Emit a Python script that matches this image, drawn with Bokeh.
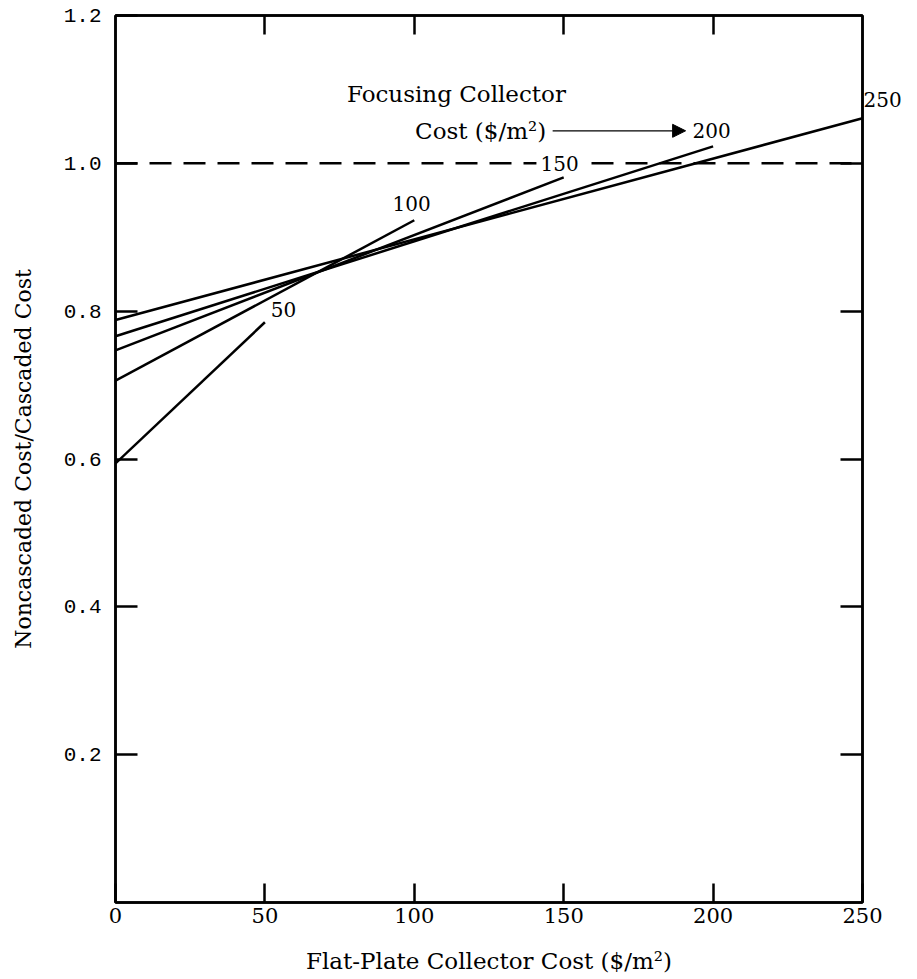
from bokeh.plotting import figure
from bokeh.models import (Range1d, LinearAxis, FixedTicker, Label, Arrow, NormalHead)
from bokeh.embed import file_html
from bokeh.resources import INLINE

# Data: Noncascaded/Cascaded cost ratio vs flat-plate collector cost,
# one line per focusing collector cost ($/m2)
focus_costs = [50, 100, 150, 200, 250]
flat_start = [0, 0, 0, 0, 0]
flat_end = [50, 100, 150, 200, 250]
ratio_start = [0.594, 0.706, 0.747, 0.766, 0.788]
ratio_end = [0.785, 0.923, 0.981, 1.023, 1.061]

label_x = [56.2, 99.1, 148.6, 199.5]
label_y = [0.802, 0.945, 1.0, 1.044]
label_250_y = 1.086

x_ticks = [0, 50, 100, 150, 200, 250]
y_ticks = [0.2, 0.4, 0.6, 0.8, 1.0, 1.2]
y_tick_labels = {0.2: "0.2", 0.4: "0.4", 0.6: "0.6", 0.8: "0.8", 1.0: "1.0", 1.2: "1.2"}

SERIF = "DejaVu Serif"
MONO = "Liberation Mono"

p = figure(width=917, height=979, output_backend="svg", toolbar_location=None,
           x_range=Range1d(0, 250), y_range=Range1d(0, 1.2),
           min_border_left=115, min_border_right=55, min_border_top=15, min_border_bottom=77,
           x_axis_label="Flat-Plate Collector Cost ($/m²)",
           y_axis_label="Noncascaded Cost/Cascaded Cost")
p.grid.visible = False
p.outline_line_color = "black"
p.outline_line_width = 2.5
p.background_fill_color = "white"

xa = p.xaxis[0]
xa.ticker = FixedTicker(ticks=x_ticks)
xa.major_tick_in = 19
xa.major_tick_out = 0
xa.minor_tick_line_color = None
xa.axis_line_width = 2.5
xa.major_tick_line_width = 2.5
xa.major_label_text_font = SERIF
xa.major_label_text_font_size = "21px"
xa.major_label_text_color = "black"
xa.major_label_standoff = 5
xa.axis_label_text_font = SERIF
xa.axis_label_text_font_size = "23px"
xa.axis_label_text_font_style = "normal"
xa.axis_label_text_color = "black"
xa.axis_label_standoff = 22

ya = p.yaxis[0]
ya.ticker = FixedTicker(ticks=y_ticks)
ya.major_label_overrides = y_tick_labels
ya.major_tick_in = 22
ya.major_tick_out = 0
ya.minor_tick_line_color = None
ya.axis_line_width = 2.5
ya.major_tick_line_width = 2.5
ya.major_label_text_font = MONO
ya.major_label_text_font_size = "21px"
ya.major_label_text_color = "black"
ya.major_label_standoff = 14
ya.axis_label_text_font = SERIF
ya.axis_label_text_font_size = "22px"
ya.axis_label_text_font_style = "normal"
ya.axis_label_text_color = "black"
ya.axis_label_standoff = 25

ra = LinearAxis(ticker=FixedTicker(ticks=[0.2, 0.4, 0.6, 0.8, 1.0]),
                major_tick_in=22, major_tick_out=0, minor_tick_line_color=None,
                axis_line_width=2.5, major_tick_line_width=2.5,
                major_label_overrides={0.2: "", 0.4: "", 0.6: "", 0.8: "", 1.0: ""},
                major_label_standoff=0, major_label_text_font_size="1px")
p.add_layout(ra, "right")
# label of the 250 curve, written just outside the right edge
ra2 = LinearAxis(ticker=FixedTicker(ticks=[label_250_y]),
                 major_label_overrides={label_250_y: str(focus_costs[-1])},
                 axis_line_color=None, major_tick_line_color=None, minor_tick_line_color=None,
                 major_tick_in=0, major_tick_out=0, major_label_standoff=1,
                 major_label_text_font=SERIF, major_label_text_font_size="20px",
                 major_label_text_color="black")
p.add_layout(ra2, "right")
ta = LinearAxis(ticker=FixedTicker(ticks=[50, 100, 150, 200]),
                major_tick_in=19, major_tick_out=0, minor_tick_line_color=None,
                axis_line_width=2.5, major_tick_line_width=2.5,
                major_label_overrides={50: "", 100: "", 150: "", 200: ""},
                major_label_standoff=0, major_label_text_font_size="1px")
p.add_layout(ta, "above")

# reference line at 1.0
p.line([0, 250], [1.0, 1.0], line_color="black", line_width=2.5, line_dash="22 12")

xs = [[a, b] for a, b in zip(flat_start, flat_end)]
ys = [[a, b] for a, b in zip(ratio_start, ratio_end)]
p.multi_line(xs, ys, line_color="black", line_width=2.5)

for c, lx, ly in zip(focus_costs[:-1], label_x, label_y):
    lab = Label(x=lx, y=ly, text=str(c), text_align="center", text_baseline="middle",
                text_font=SERIF, text_font_size="20px", text_color="black")
    if c == 150:
        lab.background_fill_color = "white"
        lab.padding = 4
    p.add_layout(lab)

p.add_layout(Label(x=114.1, y=1.094, text="Focusing Collector", text_align="center",
                   text_baseline="middle", text_font=SERIF, text_font_size="23px",
                   text_color="black"))
p.add_layout(Label(x=122.2, y=1.044, text="Cost ($/m²)", text_align="center",
                   text_baseline="middle", text_font=SERIF, text_font_size="23px",
                   text_color="black"))
p.add_layout(Arrow(x_start=146.3, y_start=1.044, x_end=190.8, y_end=1.044,
                   line_color="black", line_width=1.2,
                   end=NormalHead(size=13, fill_color="black", line_color="black")))

open("out.html", "w").write(file_html(p, INLINE))
